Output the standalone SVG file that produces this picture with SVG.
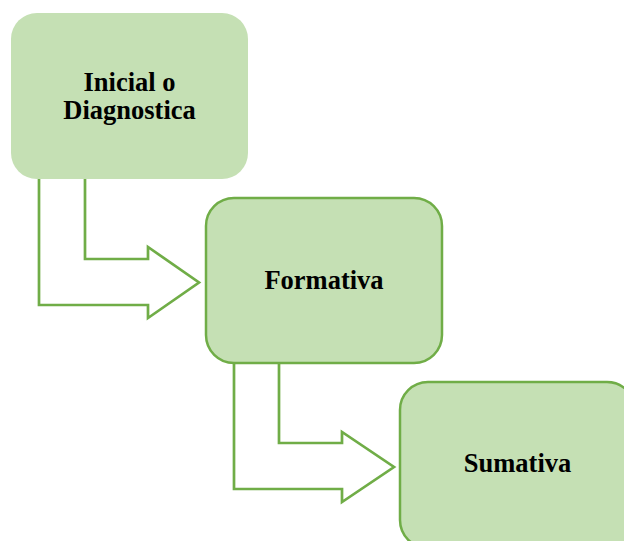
<svg xmlns="http://www.w3.org/2000/svg" width="624" height="541" viewBox="0 0 624 541">
<style>
.box{fill:#C5E0B4;}
.bs{stroke:#70AD47;stroke-width:2.5;}
.arr{fill:#FFFFFF;stroke:#70AD47;stroke-width:2.7;stroke-linejoin:miter;}
.t{font-family:"Liberation Serif","Times New Roman",serif;font-weight:bold;font-size:26.5px;fill:#000;text-anchor:middle;}
</style>
<rect width="624" height="541" fill="#FFFFFF"/>
<g id="connectors">
<path class="arr" d="M39,170 L39,305 L148,305 L148,318 L199,282.5 L148,247 L148,259 L85,259 L85,170"/>
<path class="arr" d="M234,355 L234,489 L342,489 L342,502 L394,467 L342,432 L342,443 L279,443 L279,355"/>
</g>
<g id="node-inicial">
<rect class="box" x="11" y="13" width="237" height="166" rx="26" ry="26"/>
<text class="t" x="129.5" y="91">Inicial o</text>
<text class="t" x="129.5" y="118.5">Diagnostica</text>
</g>
<g id="node-formativa">
<rect class="box bs" x="206" y="198" width="236" height="165" rx="28" ry="28"/>
<text class="t" x="324" y="289">Formativa</text>
</g>
<g id="node-sumativa">
<rect class="box bs" x="400" y="382" width="235" height="166" rx="28" ry="28"/>
<text class="t" x="517.5" y="472">Sumativa</text>
</g>
</svg>
